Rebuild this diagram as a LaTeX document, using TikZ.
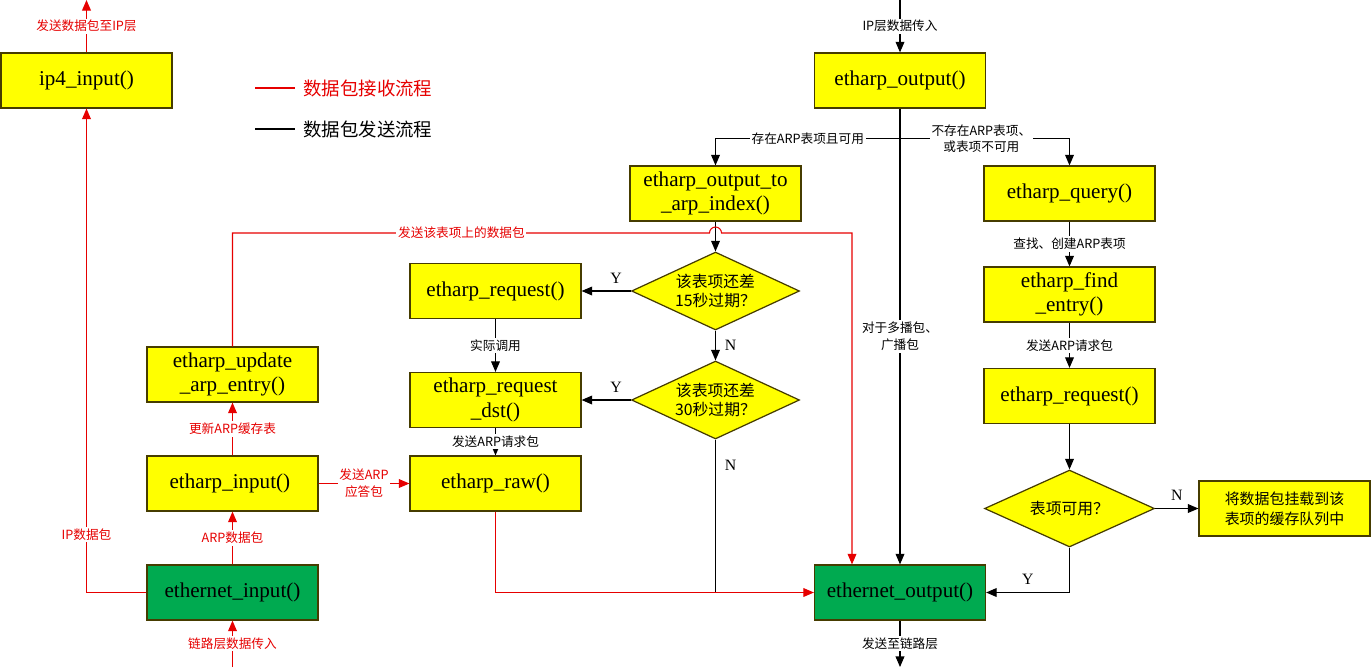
\documentclass[tikz,border=0pt]{standalone}
\usepackage{fontspec}
\setmainfont{Liberation Serif}
\newfontfamily\cjk{Noto Sans CJK SC}
\usetikzlibrary{shapes.geometric,arrows.meta}
\definecolor{boxyellow}{RGB}{255,255,0}
\definecolor{boxgreen}{RGB}{0,170,80}
\definecolor{boxline}{RGB}{70,60,0}
\definecolor{recvred}{RGB}{230,0,0}

\begin{document}
\begin{tikzpicture}[x=0.02cm, y=-0.02cm, font=\fontsize{12}{14}\selectfont,
	fbox/.style={draw=boxline, fill=boxyellow, line width=0.7pt, minimum width=3.42cm, minimum height=1.1cm, align=center, inner sep=1pt},
	gbox/.style={fbox, fill=boxgreen},
	cond/.style={diamond, aspect=2.15, draw=boxline, fill=boxyellow, line width=0.7pt, minimum width=3.36cm, minimum height=1.56cm, inner sep=0pt, align=center, font=\cjk\fontsize{9}{10.5}\selectfont},
	send/.style={draw=black, line width=0.6pt, -{Triangle[length=6pt,width=5pt]}},
	recv/.style={send, draw=recvred},
	lbl/.style={fill=white, inner sep=1pt, align=center, font=\cjk\fontsize{7.2}{9.5}\selectfont},
	rlbl/.style={lbl, text=recvred},
	yn/.style={inner sep=1pt, font=\fontsize{9}{9}\selectfont}]
		\useasboundingbox (0,0) rectangle (1372,667);
		%boxes
		\foreach \n/\x/\y/\txt in {
			ip4/86.5/80.5/{ip4\_input()},
			arpout/900/80.5/{etharp\_output()},
			ix/715.5/193.5/{etharp\_output\_to\\\_arp\_index()},
			query/1069.5/193.5/{etharp\_query()},
			find/1069.5/294.5/{etharp\_find\\\_entry()},
			reqr/1069.5/396/{etharp\_request()},
			reql/495.5/291/{etharp\_request()},
			dst/495.5/400/{etharp\_request\\\_dst()},
			raw/495.5/483.5/{etharp\_raw()},
			upd/232.5/374.5/{etharp\_update\\\_arp\_entry()},
			arpin/232.5/483.5/{etharp\_input()}
		}
		\node[fbox] (\n) at (\x,\y) {\txt};
		\node[gbox] (ethin) at (232.5,592.5) {ethernet\_input()};
		\node[gbox] (ethout) at (900,592.5) {ethernet\_output()};
		\node[fbox, font=\cjk\fontsize{8.5}{11.4}\selectfont] (queue) at (1284.5,508.5) {将数据包挂载到该\\表项的缓存队列中};
		%decisions
		\node[cond] (c15) at (715.5,291) {该表项还差\\15秒过期？};
		\node[cond] (c30) at (715.5,400) {该表项还差\\30秒过期？};
		\node[cond, minimum width=3.4cm, minimum height=1.54cm] (ok) at (1069.5,508.5) {表项可用？};
		%legend
		\node[anchor=west, text=recvred, font=\cjk\fontsize{10.5}{12}\selectfont] (lgrecv) at (297,88) {数据包接收流程};
		\node[anchor=west, font=\cjk\fontsize{10.5}{12}\selectfont] (lgsend) at (297,129) {数据包发送流程};
		\draw[recvred, line width=0.6pt] ([xshift=-0.84cm]lgrecv.west) -- ([xshift=-0.04cm]lgrecv.west);
		\draw[line width=0.6pt] ([xshift=-0.84cm]lgsend.west) -- ([xshift=-0.04cm]lgsend.west);
		%send flow
		\coordinate (ipin) at (900,0);
		\coordinate (linkout) at (900,667);
		\draw[send] (ipin) -- node[lbl]{IP层数据传入} (arpout);
		\draw[send] (arpout) -- node[lbl]{对于多播包、\\广播包} (ethout);
		\path (arpout.south) ++(0,30) coordinate (br);
		\draw[send] (br) -| node[lbl, pos=0.25]{存在ARP表项且可用} (ix);
		\draw[send] (br) -| node[lbl, pos=0.24]{不存在ARP表项、\\或表项不可用} (query);
		\draw[send] (ix) -- (c15);
		\draw[send] (c15) -- node[yn, right=4pt]{N} (c30);
		\draw[send] (c15) -- node[yn, above=3pt, pos=0.3]{Y} (reql);
		\draw[send] (c30) -- node[yn, above=3pt, pos=0.3]{Y} (dst);
		\draw[send] (reql) -- node[lbl]{实际调用} (dst);
		\draw[send] (dst) -- node[lbl]{发送ARP请求包} (raw);
		\draw[line width=0.6pt] (c30.south) -- node[yn, right=4pt, pos=0.17]{N} (c30.south |- ethout.west);
		\draw[send] (ethout) -- node[lbl]{发送至链路层} (linkout);
		\draw[send] (query) -- node[lbl]{查找、创建ARP表项} (find);
		\draw[send] (find) -- node[lbl]{发送ARP请求包} (reqr);
		\draw[send] (reqr) -- (ok);
		\draw[send] (ok) -- node[yn, above=3pt]{N} (queue);
		\draw[send] (ok.south) |- node[yn, above=3pt, pos=0.75]{Y} (ethout.east);
		%receive flow
		\coordinate (linkin) at (232.5,667);
		\coordinate (ipup) at (86.5,0);
		\coordinate (hop) at (709.5,233);
		\coordinate (tabr) at (852,233);
		\draw[recv] (linkin) -- node[rlbl]{链路层数据传入} (ethin);
		\draw[recv] (ethin) -- node[rlbl]{ARP数据包} (arpin);
		\draw[recv] (arpin) -- node[rlbl]{更新ARP缓存表} (upd);
		\draw[recv] (arpin) -- node[rlbl]{发送ARP\\应答包} (raw);
		\draw[recv] (ethin.west) -| node[rlbl, pos=0.56]{IP数据包} (ip4);
		\draw[recv] (ip4) -- node[rlbl]{发送数据包至IP层} (ipup);
		\draw[recv] (raw.south) |- (ethout.west);
		\draw[recv] (upd.north) |- node[rlbl, pos=0.74]{发送该表项上的数据包} (hop) arc[start angle=180, end angle=360, radius=6] -- (tabr) -- (tabr |- ethout.north);
\end{tikzpicture}
\end{document}
